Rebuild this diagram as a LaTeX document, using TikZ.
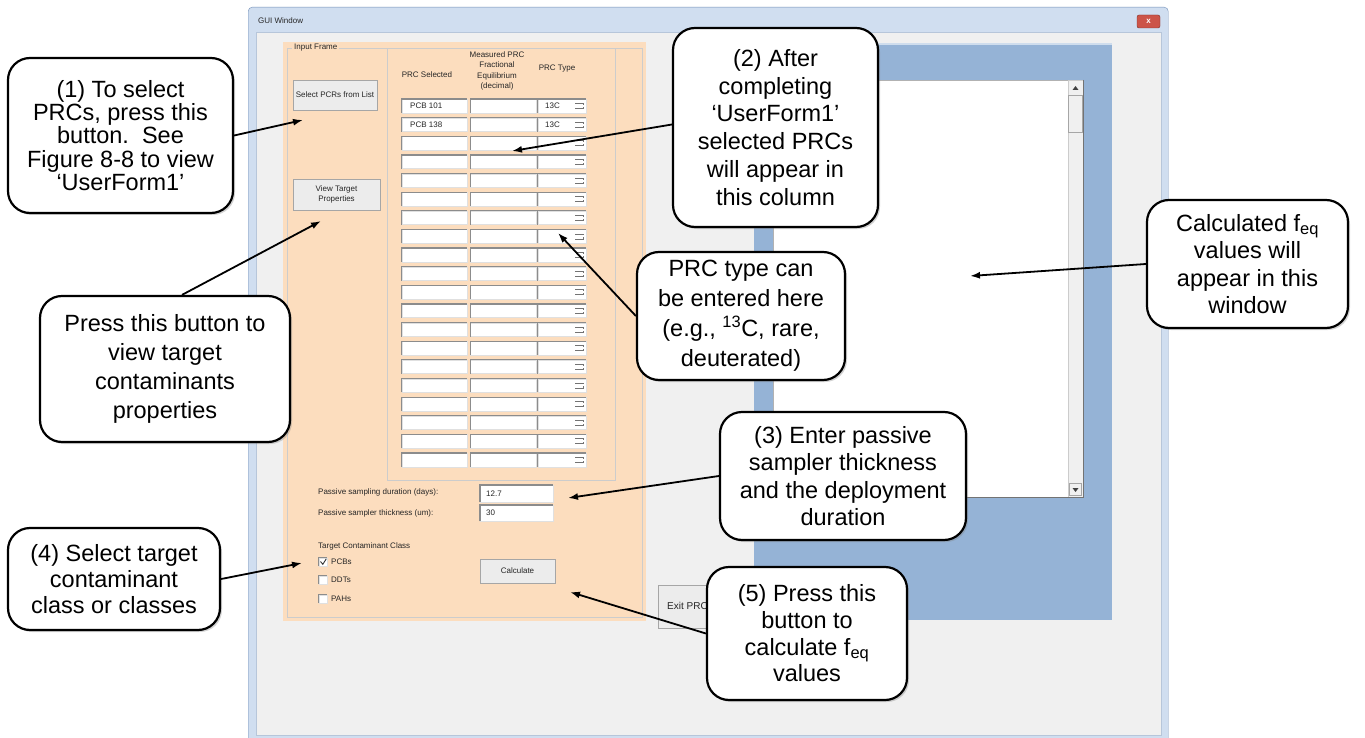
\documentclass[tikz,border=0pt]{standalone}
\usepackage{fontspec}
\setmainfont{Liberation Sans}
\usetikzlibrary{arrows.meta}
\usetikzlibrary{shadows}

\definecolor{peach}{RGB}{252,221,190}
\definecolor{panelblue}{RGB}{149,179,214}
\definecolor{winblue}{RGB}{208,222,240}
\definecolor{winedge}{RGB}{112,142,182}
\definecolor{formgrey}{RGB}{240,240,240}
\definecolor{btngrey}{RGB}{236,236,236}
\definecolor{closered}{RGB}{204,84,72}

\tikzset{
  callout/.style={draw=black, line width=2.2pt, rounded corners=22pt, fill=white,
    align=center, inner sep=0pt, font=\fontsize{23.5}{#1}\selectfont,
    drop shadow={opacity=0.35, shadow xshift=2pt, shadow yshift=-2pt}},
  callout/.default=27,
  guitext/.style={font=\fontsize{8}{10}\selectfont, inner sep=0pt, text=black!85},
  button/.style={draw=black!35, fill=btngrey, guitext, align=center},
  field/.style={fill=white, draw=black!12, inner sep=0pt},
  sunk/.style={draw=black!45, line width=1.2pt},
  etched/.style={draw=black!20, line width=0.8pt},
}

\begin{document}
\begin{tikzpicture}[x=1pt,y=-1pt,>={Latex[length=10pt,width=7pt]}]
\useasboundingbox (0,0) rectangle (1365,738);

% window and client area
\node[draw=winedge, fill=winblue, rounded corners=4pt, inner sep=0pt, minimum width=920, minimum height=745, anchor=north west] (window) at (248,7) {};
\node[fill=formgrey, draw=winedge!50, inner sep=0pt, minimum width=905, minimum height=703, anchor=north west] (client) at (256,32) {};
\node[guitext, anchor=west] (title) at (258,21) {GUI Window};
\node[fill=closered, draw=closered!60!black, rounded corners=2pt, inner sep=0pt, minimum width=23, minimum height=13] (closeBtn) at (1148.5,21.5) {};
\node[text=white, inner sep=0pt, font=\bfseries\fontsize{8}{8}\selectfont] (closeX) at (closeBtn) {x};

% input frame
\node[fill=peach, inner sep=0pt, minimum width=363, minimum height=579, anchor=north west] (inputFrame) at (283,42) {};
\draw[etched] (287,48) rectangle (642,617);
\node[guitext, fill=peach, inner xsep=2pt, anchor=west] (frameLbl) at (292,48) {Input Frame};
\draw[etched] (387,48) rectangle (615,480);

\node[guitext] (hdSel) at (427,75) {PRC Selected};
\node[guitext, align=center, font=\fontsize{8}{10.5}\selectfont] (hdFrac) at (497,71) {Measured PRC\\Fractional\\Equilibrium\\(decimal)};
\node[guitext] (hdType) at (557,69) {PRC Type};

% table rows
\foreach \r in {0,...,19} {
  \pgfmathsetmacro\yy{106+18.63*\r}
  \node[field, minimum width=65, minimum height=13.5] (sel\r) at (434.5,\yy) {};
  \node[field, minimum width=66, minimum height=13.5] (frac\r) at (503.5,\yy) {};
  \node[field, minimum width=48, minimum height=13.5] (type\r) at (562,\yy) {};
  \draw[sunk] (sel\r.south west) |- (sel\r.north east);
  \draw[sunk] (frac\r.south west) |- (frac\r.north east);
  \draw[sunk] (type\r.south west) |- (type\r.north east);
  \draw[black!55, line width=0.7pt] ([xshift=-11pt,yshift=2.5pt]type\r.east) -- ++(8pt,0pt) -- ++(0pt,-1.5pt)
    ([xshift=-11pt,yshift=-2.5pt]type\r.east) -- ++(8pt,0pt) -- ++(0pt,1.5pt);
}
\node[guitext, anchor=west] (pcbA) at (410,106) {PCB 101};
\node[guitext, anchor=west] (pcbB) at (410,124.63) {PCB 138};
\node[guitext, anchor=west] (typeA) at (545,106) {13C};
\node[guitext, anchor=west] (typeB) at (545,124.63) {13C};

% buttons
\node[button, minimum width=84, minimum height=30] (btnSelect) at (335,95) {Select PCRs from List};
\node[button, minimum width=87, minimum height=31] (btnView) at (336.5,194.5) {View Target\\Properties};
\node[button, minimum width=75, minimum height=24] (btnCalc) at (517.5,571) {Calculate};

% passive sampler inputs
\node[guitext, anchor=west] (durLbl) at (318,492) {Passive sampling duration (days):};
\node[guitext, anchor=west] (thkLbl) at (318,513) {Passive sampler thickness (um):};
\node[field, minimum width=73, minimum height=17, anchor=north west] (durBox) at (480,485) {};
\node[field, minimum width=73, minimum height=16, anchor=north west] (thkBox) at (480,505) {};
\draw[sunk] (durBox.south west) |- (durBox.north east);
\draw[sunk] (thkBox.south west) |- (thkBox.north east);
\node[guitext, anchor=west] (durVal) at (486,493.5) {12.7};
\node[guitext, anchor=west] (thkVal) at (486,513) {30};

% contaminant class
\node[guitext, anchor=west] (classLbl) at (318,546) {Target Contaminant Class};
\foreach \name/\yy in {PCBs/562,DDTs/580,PAHs/599} {
  \node[field, minimum width=8, minimum height=8] (chk\name) at (323,\yy) {};
  \draw[black!45, line width=0.9pt] (chk\name.south west) |- (chk\name.north east);
  \node[guitext, anchor=west] (lbl\name) at (331,\yy) {\name};
}
\draw[black!80, line width=0.9pt] (320.5,561.5) -- (322.8,564.3) -- (326.3,558.8);

% output panel
\node[fill=panelblue, inner sep=0pt, minimum width=358, minimum height=576, anchor=north west] (outPanel) at (754,44) {};
\draw[panelblue!45, line width=2pt] (outPanel.north west) -- (outPanel.north east);
\node[fill=white, draw=black!30, inner sep=0pt, minimum width=310, minimum height=417, anchor=north west] (outBox) at (773,80) {};
\node[fill=formgrey, draw=black!20, inner sep=0pt, minimum width=15, minimum height=417, anchor=north east] (scrollBar) at (outBox.north east) {};
\node[fill=black!6, draw=black!35, inner sep=0pt, minimum width=14, minimum height=37, anchor=north] (scrollThumb) at (1075.5,95) {};
\fill[black!75] (1072.5,90) -- (1078.5,90) -- (1075.5,86) -- cycle;
\node[fill=formgrey, draw=black!35, inner sep=0pt, minimum width=12, minimum height=12] (scrollDown) at (1075,489) {};
\fill[black!75] (1072.5,488) -- (1078.5,488) -- (1075.5,492) -- cycle;
\draw[black!55, line width=1pt] (outBox.north east) -- (outBox.south east) -- (outBox.south west);

% exit button
\node[button, minimum width=90, minimum height=43, anchor=north west] (btnExit) at (658,585) {};
\node[guitext, anchor=west, font=\fontsize{10}{12}\selectfont] (exitLbl) at (667,606) {Exit PRC};

% callouts
\node[callout=23.3, minimum width=225, minimum height=155] (cSelect) at (120.5,135.5)
  {(1) To select\\PRCs, press this\\button.\ \ See\\Figure 8-8 to view\\‘UserForm1’};
\node[callout=27.8, minimum width=205, minimum height=199] (cColumn) at (775.5,127.5)
  {(2) After\\completing\\‘UserForm1’\\selected PRCs\\will appear in\\this column};
\node[callout=29, minimum width=250, minimum height=146] (cView) at (165,369)
  {Press this button to\\view target\\contaminants\\properties};
\node[callout=30, minimum width=208, minimum height=128] (cType) at (741,316)
  {PRC type can\\be entered here\\(e.g., \textsuperscript{13}C, rare,\\deuterated)};
\node[callout=27.5, minimum width=201, minimum height=128] (cOutput) at (1247.5,264)
  {Calculated f\textsubscript{eq}\\values will\\appear in this\\window};
\node[callout=27.3, minimum width=246, minimum height=128] (cThick) at (843,476)
  {(3) Enter passive\\sampler thickness\\and the deployment\\duration};
\node[callout=26, minimum width=212, minimum height=102] (cClass) at (114,579)
  {(4) Select target\\contaminant\\class or classes};
\node[callout=26.7, minimum width=200, minimum height=133] (cCalc) at (807,633.5)
  {(5) Press this\\button to\\calculate f\textsubscript{eq}\\values};

% arrow targets
\coordinate (tipSelect) at (303,120);
\coordinate (tipColumn) at (512,151);
\coordinate (tipView) at (321,221);
\coordinate (tipType) at (558,233);
\coordinate (tipOutput) at (970,276);
\coordinate (tipThick) at (568,498);
\coordinate (tipClass) at (302,563);
\coordinate (tipCalc) at (570,592);

\draw[->, line width=1.8pt] (cSelect.east) -- (tipSelect);
\draw[->, line width=1.8pt] ([yshift=3pt]cColumn.west) -- (tipColumn);
\draw[->, line width=1.8pt] ([xshift=17pt]cView.north) -- (tipView);
\draw[->, line width=1.8pt] (cType.west) -- (tipType);
\draw[->, line width=1.8pt] (cOutput.west) -- (tipOutput);
\draw[->, line width=1.8pt] (cThick.west) -- (tipThick);
\draw[->, line width=1.8pt] (cClass.east) -- (tipClass);
\draw[->, line width=1.8pt] (cCalc.west) -- (tipCalc);

\end{tikzpicture}
\end{document}
